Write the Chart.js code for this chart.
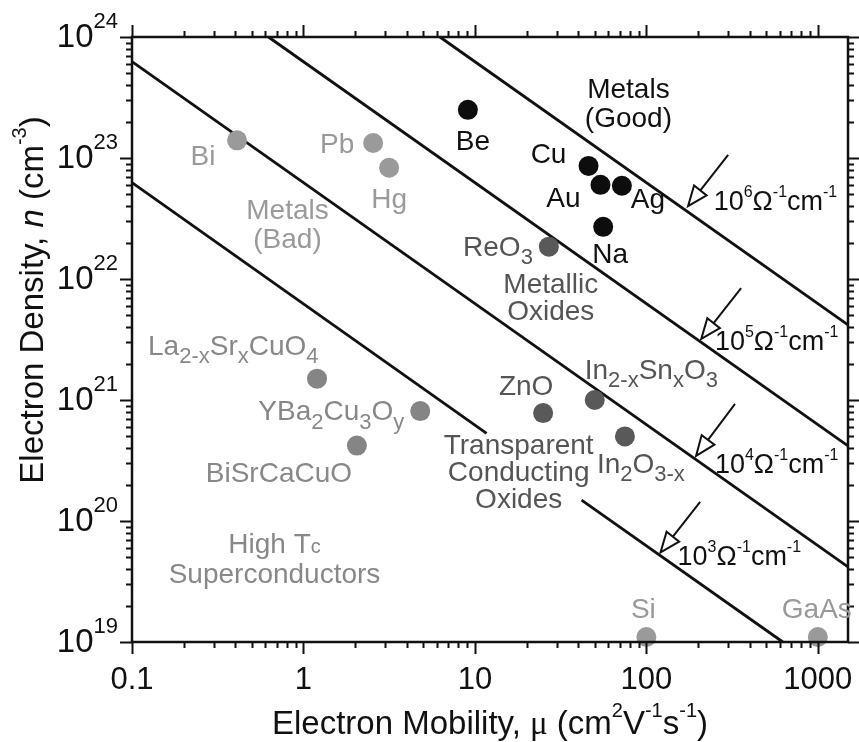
<!DOCTYPE html>
<html>
<head>
<meta charset="utf-8">
<script src="https://cdn.jsdelivr.net/npm/chart.js@4.4.1/dist/chart.umd.min.js"></script>
<style>
  html, body { margin: 0; padding: 0; background: #fff; }
</style>
</head>
<body>
<canvas id="chart" width="859" height="742"></canvas>
<script>
// values: mobility in cm2/Vs, electron density in cm-3
var goodMetalNames = ['Be', 'Cu', 'Au', 'Ag', 'Na'];
var goodMetalMu = [9.1, 46, 54, 72, 56];
var goodMetalN = [2.5e23, 8.6e22, 6.0e22, 5.9e22, 2.7e22];

var badMetalNames = ['Bi', 'Pb', 'Hg'];
var badMetalMu = [0.41, 2.55, 3.16];
var badMetalN = [1.4e23, 1.33e23, 8.3e22];

var oxideNames = ['ReO_{3}', 'ZnO', 'In_{2-x}Sn_{x}O_{3}', 'In_{2}O_{3-x}'];
var oxideMu = [27, 25, 50, 75];
var oxideN = [1.85e22, 7.8e20, 1.0e21, 5.0e20];

var superNames = ['La_{2-x}Sr_{x}CuO_{4}', 'YBa_{2}Cu_{3}O_{y}', 'BiSrCaCuO'];
var superMu = [1.2, 4.8, 2.05];
var superN = [1.5e21, 8.1e20, 4.2e20];

var semiNames = ['Si', 'GaAs'];
var semiMu = [100, 1000];
var semiN = [1.1e19, 1.1e19];

// constant conductivity lines (ends on the frame), 10^3 line is broken behind the TCO text
var line6Mu = [6.25, 1500], line6N = [1e24, 4.17e21];
var line5Mu = [0.625, 1500], line5N = [1e24, 4.17e20];
var line4Mu = [0.1, 1500], line4N = [6.25e23, 4.17e19];
var line3aMu = [0.1, 11.7], line3aN = [6.25e22, 5.3e20];
var line3bMu = [41.9, 625], line3bN = [1.49e20, 1e19];

// arrows pointing at the lines + their labels
var sigmaExp = ['6', '5', '4', '3'];
var arrowTailMu = [300, 357, 329, 206];
var arrowTailN = [1.06e23, 8.4e21, 9.3e20, 1.44e20];
var arrowTipMu = [175, 209, 195, 121];
var arrowTipN = [4.0e22, 3.2e21, 3.45e20, 5.5e19];
var sigmaLabelMu = [247, 251, 251, 152];
var sigmaLabelN = [4.5e22, 3.13e21, 3.0e20, 5.2e19];

// axis ticks
var xMin = 0.1, xMax = 1500, yMin = 1e19, yMax = 1e24;
var xTickValues = [0.1, 1, 10, 100, 1000];
var xTickLabels = ['0.1', '1', '10', '100', '1000'];
var yTickExponents = [19, 20, 21, 22, 23, 24];

// region labels: text lines, anchor (data coords), colour
var groupLabels = [
  { lines: ['Metals', '(Good)'], mu: 78.6, n: 2.9e23, color: '#111', gap: 29 },
  { lines: ['Metals', '(Bad)'], mu: 0.807, n: 2.88e22, color: '#9a9a9a', gap: 29 },
  { lines: ['Metallic', 'Oxides'], mu: 27.7, n: 7.24e21, color: '#555', gap: 27 },
  { lines: ['Transparent', 'Conducting', 'Oxides'], mu: 18.0, n: 2.59e20, color: '#555', gap: 27 },
  { lines: ['High T_{c}', 'Superconductors'], mu: 0.678, n: 4.94e19, color: '#888', gap: 30 }
];

// pixel offsets of the point labels from their dots
var labelOffsets = {
  'Be': [5, 30, 'center'], 'Cu': [-40, -13, 'center'], 'Au': [-37, 12, 'center'],
  'Ag': [26, 12, 'center'], 'Na': [7, 26, 'center'],
  'Bi': [-34, 15, 'center'], 'Pb': [-36, 0, 'center'], 'Hg': [0, 30, 'center'],
  'ReO_{3}': [-16, -1, 'right'], 'ZnO': [-17, -28, 'center'],
  'In_{2-x}Sn_{x}O_{3}': [-10, -31, 'left'], 'In_{2}O_{3-x}': [-28, 26, 'left'],
  'La_{2-x}Sr_{x}CuO_{4}': [-169, -34, 'left'], 'YBa_{2}Cu_{3}O_{y}': [-16, -1, 'right'],
  'BiSrCaCuO': [-78, 26, 'center'],
  'Si': [-3, -29, 'center'], 'GaAs': [-1, -29, 'center']
};

var SANS = '"Liberation Sans", Arial, Helvetica, sans-serif';
var SERIF = '"Liberation Serif", "Times New Roman", serif';

function pts(mu, n) {
  return mu.map(function (m, i) { return { x: m, y: n[i] }; });
}

function parseRich(str) {
  var parts = [], re = /([_^])\{([^}]*)\}|([^_^]+)/g, m;
  while ((m = re.exec(str))) {
    if (m[3]) parts.push({ t: m[3] });
    else parts.push({ t: m[2], s: m[1] === '^' ? 'sup' : 'sub' });
  }
  return parts;
}

function partFont(p, size, o) {
  var s = size;
  if (p.s) s = Math.round(size * (o.scriptSize || 0.72));
  return (p.i ? 'italic ' : '') + s + 'px ' + (p.serif ? SERIF : SANS);
}

// draws text with sub/superscripts, y is the middle of the main glyphs
function drawRich(ctx, parts, x, y, align, size, color, o) {
  o = o || {};
  var widths = [], total = 0;
  parts.forEach(function (p) {
    ctx.font = partFont(p, size, o);
    var w = ctx.measureText(p.t).width;
    widths.push(w);
    total += w;
  });
  var cx = align === 'center' ? x - total / 2 : (align === 'right' ? x - total : x);
  var base = y + size * 0.36;
  ctx.fillStyle = color;
  ctx.textAlign = 'left';
  ctx.textBaseline = 'alphabetic';
  parts.forEach(function (p, i) {
    ctx.font = partFont(p, size, o);
    var dy = 0;
    if (p.s === 'sup') dy = -size * (o.supShift || 0.45);
    if (p.s === 'sub') dy = size * (o.subShift || 0.25);
    ctx.fillText(p.t, cx, base + dy);
    cx += widths[i];
  });
}

function drawArrow(ctx, x1, y1, x2, y2) {
  var ang = Math.atan2(y2 - y1, x2 - x1);
  var len = 20, half = 8;
  var bx = x2 - len * Math.cos(ang), by = y2 - len * Math.sin(ang);
  ctx.strokeStyle = '#111';
  ctx.lineWidth = 2;
  ctx.beginPath();
  ctx.moveTo(x1, y1);
  ctx.lineTo(bx, by);
  ctx.stroke();
  ctx.beginPath();
  ctx.moveTo(x2, y2);
  ctx.lineTo(bx + half * Math.sin(ang), by - half * Math.cos(ang));
  ctx.lineTo(bx - half * Math.sin(ang), by + half * Math.cos(ang));
  ctx.closePath();
  ctx.fillStyle = '#fff';
  ctx.fill();
  ctx.stroke();
}

function minorTicks(min, max) {
  var out = [];
  for (var k = Math.floor(Math.log10(min)); k <= Math.ceil(Math.log10(max)); k++) {
    for (var m = 1; m <= 9; m++) {
      var v = m * Math.pow(10, k);
      if (v >= min * 0.999 && v <= max * 1.001) out.push({ v: v, major: m === 1 });
    }
  }
  return out;
}

var framePlugin = {
  id: 'frame',
  afterDatasetsDraw: function (chart) {
    var ctx = chart.ctx, a = chart.chartArea;
    var xs = chart.scales.x, ys = chart.scales.y;
    ctx.save();

    // frame
    ctx.strokeStyle = '#111';
    ctx.lineWidth = 2.5;
    ctx.strokeRect(a.left, a.top, a.right - a.left, a.bottom - a.top);

    // outward ticks on all four sides
    ctx.lineWidth = 2;
    ctx.beginPath();
    minorTicks(xMin, xMax).forEach(function (t) {
      var px = Math.round(xs.getPixelForValue(t.v)) + 0.5;
      var L = t.major ? 12 : 6;
      ctx.moveTo(px, a.bottom); ctx.lineTo(px, a.bottom + L);
      ctx.moveTo(px, a.top); ctx.lineTo(px, a.top - L);
    });
    minorTicks(yMin, yMax).forEach(function (t) {
      var py = Math.round(ys.getPixelForValue(t.v)) + 0.5;
      var L = t.major ? 12 : 6;
      ctx.moveTo(a.left, py); ctx.lineTo(a.left - L, py);
      ctx.moveTo(a.right, py); ctx.lineTo(a.right + L, py);
    });
    ctx.stroke();

    // tick labels
    xTickValues.forEach(function (v, i) {
      drawRich(ctx, [{ t: xTickLabels[i] }], xs.getPixelForValue(v), a.bottom + 36, 'center', 31, '#111');
    });
    yTickExponents.forEach(function (e) {
      drawRich(ctx, [{ t: '10' }, { t: String(e), s: 'sup' }], a.left - 14, ys.getPixelForValue(Math.pow(10, e)) - 2,
        'right', 33, '#111', { scriptSize: 0.66, supShift: 0.58 });
    });

    // axis titles
    drawRich(ctx, [{ t: 'Electron Mobility, ' }, { t: '\u03bc', serif: true }, { t: ' (cm' }, { t: '2', s: 'sup' },
      { t: 'V' }, { t: '-1', s: 'sup' }, { t: 's' }, { t: '-1', s: 'sup' }, { t: ')' }],
      (a.left + a.right) / 2, a.bottom + 80, 'center', 33, '#111', { scriptSize: 0.62, supShift: 0.5 });
    ctx.save();
    ctx.translate(31, 300);
    ctx.rotate(-Math.PI / 2);
    drawRich(ctx, [{ t: 'Electron Density, ' }, { t: 'n', i: true }, { t: ' (cm' }, { t: '-3', s: 'sup' }, { t: ')' }],
      0, 0, 'center', 33, '#111', { scriptSize: 0.62, supShift: 0.5 });
    ctx.restore();

    // point labels
    var groups = [
      [goodMetalNames, goodMetalMu, goodMetalN, '#111'],
      [badMetalNames, badMetalMu, badMetalN, '#9a9a9a'],
      [oxideNames, oxideMu, oxideN, '#555'],
      [superNames, superMu, superN, '#888'],
      [semiNames, semiMu, semiN, '#9a9a9a']
    ];
    groups.forEach(function (g) {
      g[0].forEach(function (name, i) {
        var off = labelOffsets[name];
        var px = xs.getPixelForValue(g[1][i]) + off[0];
        var py = ys.getPixelForValue(g[2][i]) + off[1];
        drawRich(ctx, parseRich(name), px, py, off[2], 28, g[3], { scriptSize: 0.8, subShift: 0.3 });
      });
    });

    // region labels
    groupLabels.forEach(function (g) {
      var cx = xs.getPixelForValue(g.mu), cy = ys.getPixelForValue(g.n);
      var y0 = cy - (g.lines.length - 1) * g.gap / 2;
      g.lines.forEach(function (line, j) {
        var parts = parseRich(line).map(function (p) {
          // the "c" of Tc is a small letter sitting on the baseline
          return p.s === 'sub' ? { t: p.t, s: 'small' } : p;
        });
        drawRich(ctx, parts, cx, y0 + j * g.gap, 'center', 28, g.color, { scriptSize: 0.72 });
      });
    });

    // conductivity arrows and labels
    sigmaExp.forEach(function (e, i) {
      drawArrow(ctx, xs.getPixelForValue(arrowTailMu[i]), ys.getPixelForValue(arrowTailN[i]),
        xs.getPixelForValue(arrowTipMu[i]), ys.getPixelForValue(arrowTipN[i]));
      drawRich(ctx, [{ t: '10' }, { t: e, s: 'sup' }, { t: '\u03a9' }, { t: '-1', s: 'sup' }, { t: 'cm' }, { t: '-1', s: 'sup' }],
        xs.getPixelForValue(sigmaLabelMu[i]), ys.getPixelForValue(sigmaLabelN[i]), 'left', 27, '#111',
        { scriptSize: 0.6, supShift: 0.48 });
    });

    ctx.restore();
  }
};

function dotSet(mu, n, color) {
  return {
    type: 'scatter', data: pts(mu, n), backgroundColor: color, borderWidth: 0,
    pointRadius: 10, pointHoverRadius: 10, clip: false, order: 1
  };
}

function lineSet(mu, n) {
  return {
    type: 'line', data: pts(mu, n), borderColor: '#111', borderWidth: 2.8,
    pointRadius: 0, fill: false, tension: 0, clip: false, order: 2
  };
}

new Chart(document.getElementById('chart'), {
  type: 'scatter',
  data: {
    datasets: [
      dotSet(goodMetalMu, goodMetalN, '#0d0d0d'),
      dotSet(badMetalMu, badMetalN, '#9a9a9a'),
      dotSet(oxideMu, oxideN, '#595959'),
      dotSet(superMu, superN, '#858585'),
      dotSet(semiMu, semiN, '#9a9a9a'),
      lineSet(line6Mu, line6N),
      lineSet(line5Mu, line5N),
      lineSet(line4Mu, line4N),
      lineSet(line3aMu, line3aN),
      lineSet(line3bMu, line3bN)
    ]
  },
  options: {
    responsive: false,
    animation: false,
    layout: { padding: { left: 132, top: 37, right: 11, bottom: 100 } },
    plugins: { legend: { display: false }, tooltip: { enabled: false } },
    scales: {
      x: { type: 'logarithmic', min: xMin, max: xMax, display: false },
      y: { type: 'logarithmic', min: yMin, max: yMax, display: false }
    }
  },
  plugins: [framePlugin]
});
</script>
</body>
</html>
